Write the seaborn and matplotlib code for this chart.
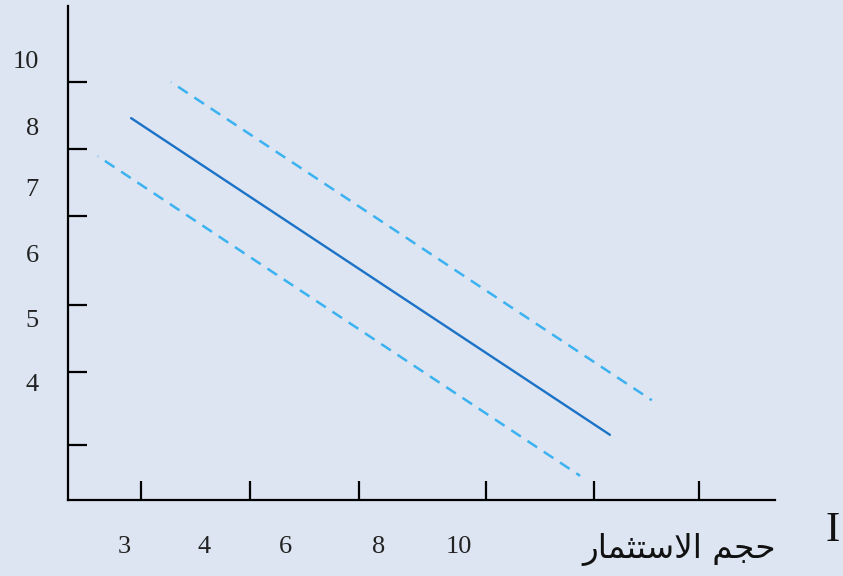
import numpy as np
import pandas as pd
import seaborn as sns
import matplotlib.pyplot as plt

# axis ticks (positions of tick marks) and the offset tick labels
x_tick_pos = [1.45, 3.6, 5.76, 8.28, 10.42, 12.5]
x_label_pos = [1.11, 2.69, 4.3, 6.16, 7.74]
x_labels = ["3", "4", "6", "8", "10"]

y_tick_pos = [1.11, 2.59, 3.95, 5.75, 7.1, 8.46]
y_label_pos = [2.37, 3.68, 5.0, 6.32, 7.57, 8.91]
y_labels = ["4", "5", "6", "7", "8", "10"]

# the three lines (middle solid, two dashed parallels)
mid_x = [1.25, 10.73]
mid_y = [7.73, 1.32]
upper_x = [2.04, 11.56]
upper_y = [8.46, 2.02]
lower_x = [0.59, 10.14]
lower_y = [6.96, 0.49]

# axis title: "investment volume" written with presentation forms, reversed for LTR drawing
arabic = "\uFEA3\uFEA0\uFEE2 \uFE8D\uFEFB\uFEB3\uFE98\uFE9C\uFEE4\uFE8E\uFEAD"
x_title = arabic[::-1]

bg = "#dce5f1"
sns.set_theme(style="white", rc={"axes.facecolor": bg, "figure.facecolor": bg})
plt.rcParams["font.family"] = ["Liberation Serif", "DejaVu Sans"]

fig = plt.figure(figsize=(8.43, 5.76), dpi=100)
ax = fig.add_axes([68 / 843, 1 - 500 / 576, 707 / 843, 494 / 576])

sns.lineplot(x=mid_x, y=mid_y, ax=ax, color="#1b72c6", lw=1.7)
sns.lineplot(x=upper_x, y=upper_y, ax=ax, color="#3cb2f0", lw=1.8,
             linestyle=(4.4, (4.6, 3.2)))
sns.lineplot(x=lower_x, y=lower_y, ax=ax, color="#3cb2f0", lw=1.8,
             linestyle=(4.4, (4.6, 3.2)))

ax.set_xlim(0, 14)
ax.set_ylim(0, 10)

for s in ["top", "right"]:
    ax.spines[s].set_visible(False)
for s in ["left", "bottom"]:
    ax.spines[s].set_color("black")
    ax.spines[s].set_linewidth(1.6)

ax.set_xticks(x_tick_pos, [""] * len(x_tick_pos))
ax.set_yticks(y_tick_pos, [""] * len(y_tick_pos))
ax.set_xticks(x_label_pos, x_labels, minor=True)
ax.set_yticks(y_label_pos, y_labels, minor=True)
ax.tick_params(which="major", direction="in", length=14, width=1.6, color="black",
               bottom=True, left=True)
ax.tick_params(which="minor", length=0, labelsize=19, colors="#222222",
               bottom=True, left=True)
ax.tick_params(axis="x", which="minor", pad=26)
ax.tick_params(axis="y", which="minor", pad=21)

ax.text(12.1, -1.0, x_title, ha="center", va="center", fontsize=23.5,
        family=["DejaVu Sans"], color="#111111", clip_on=False)
ax.text(15.15, -0.62, "I", ha="center", va="center", fontsize=31,
        color="#111111", clip_on=False)

fig.savefig("out.png", dpi=100, facecolor=bg)
